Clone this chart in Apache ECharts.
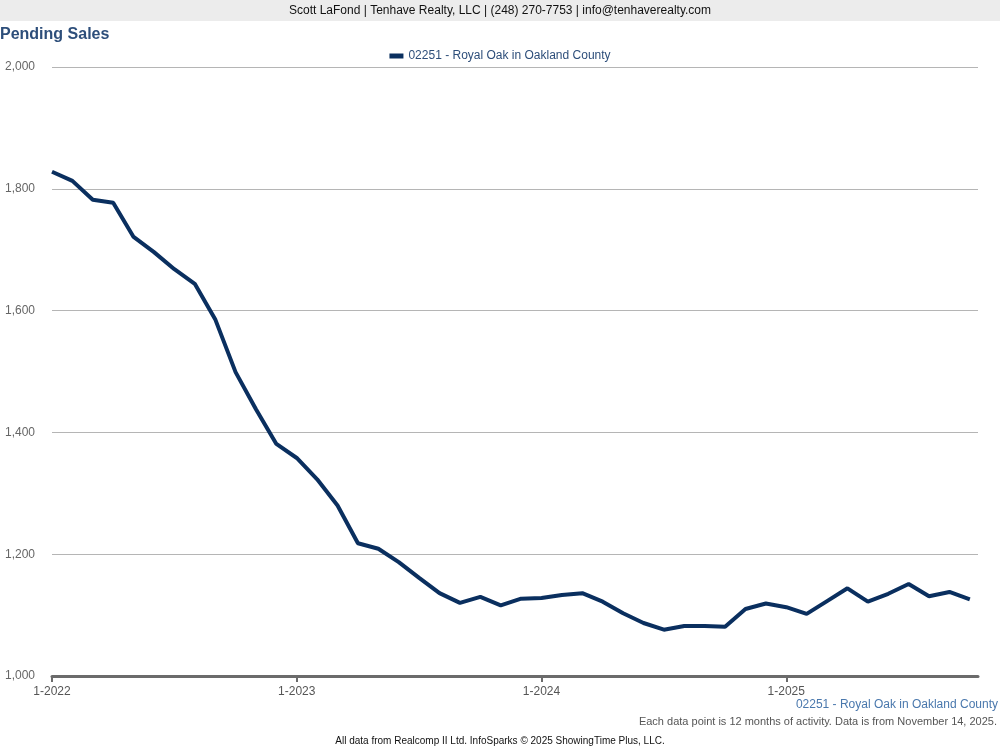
<!DOCTYPE html>
<html>
<head>
<meta charset="utf-8">
<script src="https://cdn.jsdelivr.net/npm/echarts@6/dist/echarts.min.js"></script>
<style>
html,body{margin:0;padding:0;background:#fff;}
#chart{width:1000px;height:750px;}
</style>
</head>
<body>
<div id="chart"></div>
<script>
var months = [
 "1-2022","2-2022","3-2022","4-2022","5-2022","6-2022","7-2022","8-2022","9-2022","10-2022","11-2022","12-2022",
 "1-2023","2-2023","3-2023","4-2023","5-2023","6-2023","7-2023","8-2023","9-2023","10-2023","11-2023","12-2023",
 "1-2024","2-2024","3-2024","4-2024","5-2024","6-2024","7-2024","8-2024","9-2024","10-2024","11-2024","12-2024",
 "1-2025","2-2025","3-2025","4-2025","5-2025","6-2025","7-2025","8-2025","9-2025","10-2025"
];
var royalOak = [
 1828,1813,1782,1777,1721,1696,1668,1644,1586,1499,1438,1381,
 1358,1323,1280,1218,1209,1187,1161,1136,1120,1130,1116,1127,
 1128,1133,1136,1122,1103,1087,1076,1082,1082,1081,1110,1119,
 1113,1102,1123,1144,1122,1135,1151,1131,1138,1126
];
var xTickLabels = ["1-2022","1-2023","1-2024","1-2025"];
var seriesName = "02251 - Royal Oak in Oakland County";
var yTicks = [1000, 1200, 1400, 1600, 1800, 2000];

var xTickIdx = xTickLabels.map(function(l){ return months.indexOf(l); });
var seriesData = royalOak.map(function(v, i){ return [i, v]; });

var chart = echarts.init(document.getElementById('chart'));
var font = 'Arial, "Liberation Sans", sans-serif';
chart.setOption({
  animation: false,
  textStyle: {fontFamily: font},
  graphic: [
    {type:'rect', left:0, top:0, shape:{width:1000, height:21}, style:{fill:'#ececec'}},
    {type:'text', left:'center', top:5, style:{text:'Scott LaFond | Tenhave Realty, LLC | (248) 270-7753 | info@tenhaverealty.com', fill:'#111', font:'12px ' + font}},
    {type:'text', left:0, top:27, style:{text:'Pending Sales', fill:'#2d4e7a', font:'bold 16px ' + font}},
    {type:'text', right:2, top:699, style:{text:seriesName, fill:'#4a78ad', font:'12px ' + font, align:'right'}},
    {type:'text', right:3, top:716, style:{text:'Each data point is 12 months of activity. Data is from November 14, 2025.', fill:'#555', font:'11px ' + font, align:'right'}},
    {type:'text', left:'center', top:736, style:{text:'All data from Realcomp II Ltd. InfoSparks \u00a9 2025 ShowingTime Plus, LLC.', fill:'#111', font:'10px ' + font}}
  ],
  legend: {
    top: 45, left: 'center',
    data: [seriesName],
    itemWidth: 14, itemHeight: 5,
    icon: 'rect',
    textStyle: {color:'#2d4e7a', fontSize:12, fontFamily:font}
  },
  grid: {left:52, right:22, top:67, bottom:74, containLabel:false},
  xAxis: {
    type:'value',
    min: 0, max: 45.4,
    axisLine:{show:true, onZero:false, lineStyle:{color:'#6b6b6b', width:3}},
    axisTick:{show:true, length:6, lineStyle:{color:'#6b6b6b', width:2}, customValues: xTickIdx},
    axisLabel:{color:'#555', fontSize:12, margin:10, customValues: xTickIdx,
      formatter:function(v){ return months[Math.round(v)] || ''; }},
    splitLine:{show:false}
  },
  yAxis: {
    type:'value',
    min: yTicks[0], max: yTicks[yTicks.length-1], interval: 200,
    axisLine:{show:false}, axisTick:{show:false},
    axisLabel:{color:'#666', fontSize:12, margin:17, formatter:function(v){return v.toLocaleString('en-US');}},
    splitLine:{lineStyle:{color:'#b5b5b5', width:1}}
  },
  series: [{
    name: seriesName,
    type:'line',
    data: seriesData,
    symbol:'none',
    lineStyle:{color:'#0a2f5f', width:4},
    itemStyle:{color:'#0a2f5f'}
  }]
});
</script>
</body>
</html>
